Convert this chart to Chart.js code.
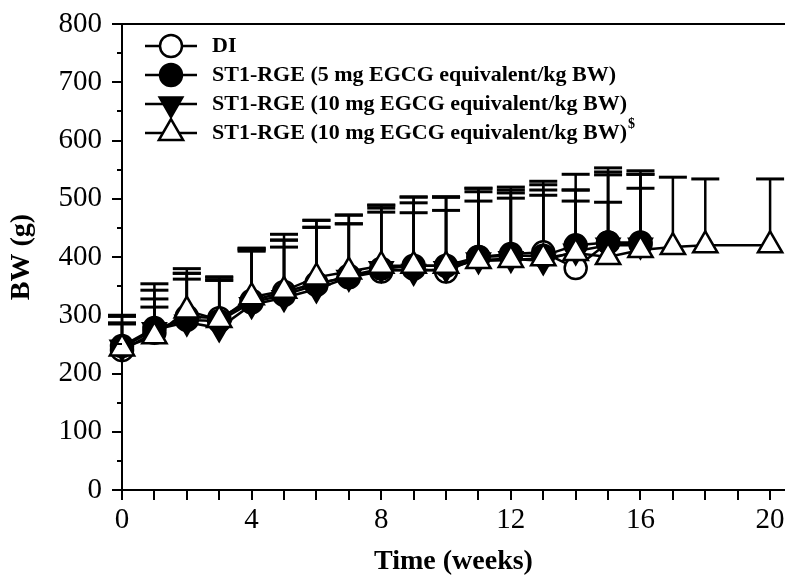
<!DOCTYPE html>
<html>
<head>
<meta charset="utf-8">
<script src="https://cdn.jsdelivr.net/npm/chart.js@4.4.1/dist/chart.umd.min.js"></script>
<style>
html,body{margin:0;padding:0;background:#fff;overflow:hidden;width:785px;height:576px;}
canvas{display:block;width:785px;height:576px;}
</style>
</head>
<body>
<canvas id="c" width="785" height="576" style="width:785px;height:576px"></canvas>
<script>
// ---- data ----
const weeks = [0,1,2,3,4,5,6,7,8,9,10,11,12,13,14,15,16];
const weeksS = [0,1,2,3,4,5,6,7,8,9,10,11,12,13,14,15,16,17,18,20];

const diMean    = [240,270,298,295,325,340,355,365,375,380,375,400,405,408,381,425,422];
const diTop     = [300,354,380,366,415,439,463,472,489,503,503,518,520,530,496,546,548];

const rge5Mean  = [247,278,292,290,322,335,352,368,380,385,385,400,402,402,420,425,425];
const rge5Top   = [298,343,372,360,410,429,451,457,484,493,503,512,515,524,542,553,542];

const rge10Mean = [245,275,288,278,318,330,345,365,380,375,380,395,397,393,410,420,420];
const rge10Top  = [285,328,362,360,412,417,451,457,477,476,480,496,510,515,515,541,542];

const rge10sMean = [243,264,308,292,331,342,365,375,385,385,385,393,395,398,407,400,412,417,420,420];
const rge10sTop  = [287,314,372,365,415,429,463,472,489,503,503,518,501,506,515,494,518,537,534,534];

const seriesLabels = [
  'DI',
  'ST1-RGE (5 mg EGCG equivalent/kg BW)',
  'ST1-RGE (10 mg EGCG equivalent/kg BW)',
  'ST1-RGE (10 mg EGCG equivalent/kg BW)'
];
const xTickLabels = [0,4,8,12,16,20];
const yTickLabels = [0,100,200,300,400,500,600,700,800];

// ---- build ----
const FONT = '"Liberation Serif", "Times New Roman", serif';
const pts = (xs, ys) => xs.map((x,i)=>({x:x, y:ys[i]}));

const datasets = [
  {label:seriesLabels[0], data:pts(weeks,diMean), tops:diTop,
   pointStyle:'circle', pointRadius:11, pointBackgroundColor:'#fff', order:3},
  {label:seriesLabels[1], data:pts(weeks,rge5Mean), tops:rge5Top,
   pointStyle:'circle', pointRadius:11, pointBackgroundColor:'#000', order:2},
  {label:seriesLabels[2], data:pts(weeks,rge10Mean), tops:rge10Top,
   pointStyle:'triangle', pointRotation:180, pointRadius:13, pointBackgroundColor:'#000', order:1},
  {label:seriesLabels[3], data:pts(weeksS,rge10sMean), tops:rge10sTop,
   pointStyle:'triangle', pointRadius:14, pointBackgroundColor:'#fff', order:0, sup:'$'}
].map(d=>Object.assign({
  borderColor:'#000', borderWidth:2.5, pointBorderColor:'#000', pointBorderWidth:2.5,
  showLine:true, fill:false, tension:0, clip:false
}, d));

const errorBars = {
  id:'errorBars',
  beforeDatasetsDraw(chart){
    const ctx = chart.ctx, xs = chart.scales.x, ys = chart.scales.y;
    ctx.save();
    ctx.strokeStyle = '#000';
    chart.data.datasets.forEach(ds=>{
      ds.data.forEach((p,i)=>{
        const px = xs.getPixelForValue(p.x);
        const py = ys.getPixelForValue(p.y);
        const pt = ys.getPixelForValue(ds.tops[i]);
        ctx.lineWidth = 2.5;
        ctx.beginPath(); ctx.moveTo(px,py); ctx.lineTo(px,pt); ctx.stroke();
        ctx.lineWidth = 3;
        ctx.beginPath(); ctx.moveTo(px-14,pt); ctx.lineTo(px+14,pt); ctx.stroke();
      });
    });
    ctx.restore();
  }
};

const decor = {
  id:'decor',
  afterDraw(chart){
    const ctx = chart.ctx, ys = chart.scales.y, a = chart.chartArea;
    ctx.save();
    ctx.strokeStyle = '#000';
    ctx.lineWidth = 2;
    for (let v=50; v<800; v+=100){
      const py = Math.round(ys.getPixelForValue(v));
      ctx.beginPath(); ctx.moveTo(a.left-5,py); ctx.lineTo(a.left,py); ctx.stroke();
    }
    ctx.beginPath(); ctx.moveTo(a.left,a.top); ctx.lineTo(chart.width,a.top); ctx.stroke();
    ctx.beginPath(); ctx.moveTo(a.right,a.bottom); ctx.lineTo(chart.width,a.bottom); ctx.stroke();

    const H = Chart.helpers;
    chart.data.datasets.forEach((ds,i)=>{
      const y = 46 + 29*i;
      ctx.strokeStyle = '#000'; ctx.lineWidth = 2.5;
      ctx.beginPath(); ctx.moveTo(145,y); ctx.lineTo(197,y); ctx.stroke();
      ctx.fillStyle = ds.pointBackgroundColor; ctx.strokeStyle = '#000'; ctx.lineWidth = 2.5;
      H.drawPoint(ctx, {pointStyle:ds.pointStyle, rotation:ds.pointRotation||0,
                        radius:ds.pointRadius, borderWidth:2.5}, 171, y);
      ctx.fillStyle = '#000';
      ctx.font = 'bold 22px ' + FONT;
      ctx.textAlign = 'left'; ctx.textBaseline = 'middle';
      ctx.fillText(ds.label, 212, y);
      if (ds.sup){
        const w = ctx.measureText(ds.label).width;
        ctx.font = 'bold 14px ' + FONT;
        ctx.fillText(ds.sup, 212 + w + 1, y - 9);
      }
    });
    ctx.restore();
  }
};

new Chart(document.getElementById('c'), {
  type:'line',
  data:{datasets:datasets},
  options:{
    responsive:false, animation:false,
    layout:{autoPadding:false, padding:{top:24,right:0,left:0,bottom:0}},
    plugins:{legend:{display:false}, tooltip:{enabled:false}},
    scales:{
      x:{
        type:'linear', min:0, max:20.46,
        ticks:{stepSize:1, includeBounds:false, autoSkip:false, maxRotation:0,
               callback:v=> xTickLabels.includes(v) ? String(v) : '',
               font:{family:FONT,size:29}, color:'#000', padding:3},
        grid:{drawOnChartArea:false, drawTicks:true, tickLength:10, color:'#000', lineWidth:2},
        border:{display:true, color:'#000', width:2},
        title:{display:true, text:'Time (weeks)', color:'#000',
               font:{family:FONT, size:28, weight:'bold', lineHeight:1}, padding:{top:0,bottom:0}},
        afterFit:s=>{s.height = 86; s.paddingRight = 0; s.paddingLeft = 0;}
      },
      y:{
        min:0, max:800,
        ticks:{stepSize:100, callback:v=> yTickLabels.includes(v) ? String(v) : '',
               font:{family:FONT,size:29}, color:'#000', padding:10},
        grid:{drawOnChartArea:false, drawTicks:true, tickLength:10, color:'#000', lineWidth:2},
        border:{display:true, color:'#000', width:2},
        title:{display:true, text:'BW (g)', color:'#000',
               font:{family:FONT, size:28, weight:'bold', lineHeight:1}, padding:{top:8,bottom:0}},
        afterFit:s=>{s.width = 122; s.paddingTop = 0; s.paddingBottom = 0;}
      }
    }
  },
  plugins:[errorBars, decor]
});
</script>
</body>
</html>
